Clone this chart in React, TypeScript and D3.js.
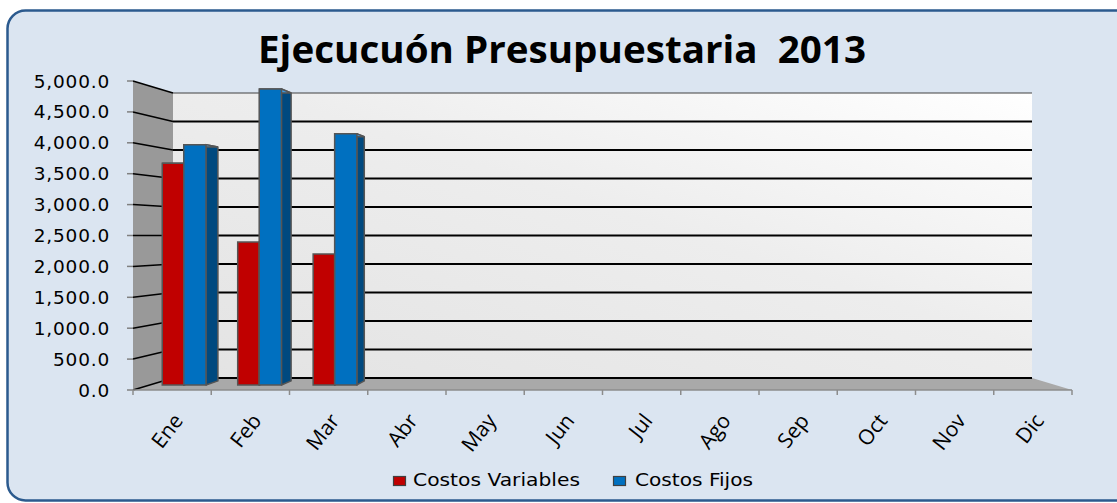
import React from "react";
import * as d3 from "d3";

const months = ["Ene", "Feb", "Mar", "Abr", "May", "Jun", "Jul", "Ago", "Sep", "Oct", "Nov", "Dic"];
const costosVariables: (number | null)[] = [3710, 2390, 2190, null, null, null, null, null, null, null, null, null];
const costosFijos: (number | null)[] = [4020, 4950, 4200, null, null, null, null, null, null, null, null, null];
const yTicks = [0, 500, 1000, 1500, 2000, 2500, 3000, 3500, 4000, 4500, 5000];
const seriesNames = ["Costos Variables", "Costos Fijos"];
const title = "Ejecucuón Presupuestaria  2013";

const W = 1117;
const H = 503;

// front plane / back plane scales (3D look)
const xFront = d3.scaleLinear().domain([0, 12]).range([133, 1072]);
const xBack = d3.scaleLinear().domain([0, 12]).range([173, 1032]);
const yFront = d3.scaleLinear().domain([0, 5000]).range([390, 81]);
const yBack = d3.scaleLinear().domain([0, 5000]).range([378, 93]);

function P(x: number, v: number, t: number): [number, number] {
  const xf = xFront(x), xb = xBack(x);
  const yf = yFront(v), yb = yBack(v);
  return [xf + (xb - xf) * t, yf + (yb - yf) * t];
}
const pts = (arr: [number, number][]) => arr.map((p) => p.join(",")).join(" ");

const T1 = 0.42;
const T2 = 0.76;
const series = [
  { name: seriesNames[0], values: costosVariables, x0: 0.165, x1: 0.45, front: "#c00000", side: "#800000", top: "#e05050" },
  { name: seriesNames[1], values: costosFijos, x0: 0.45, x1: 0.745, front: "#0070c0", side: "#00497f", top: "#3d9be0" },
];

function Bar({ i, v, s }: { i: number; v: number; s: any }) {
  const a = i + s.x0, b = i + s.x1;
  const front: [number, number][] = [P(a, 0, T1), P(b, 0, T1), P(b, v, T1), P(a, v, T1)];
  const rightFrontX = P(b, 0, T1)[0];
  const rightBackX = P(b, 0, T2)[0];
  const rightVisible = rightBackX > rightFrontX;
  const sx = rightVisible ? b : a;
  const side: [number, number][] = [P(sx, 0, T1), P(sx, 0, T2), P(sx, v, T2), P(sx, v, T1)];
  const topVisible = P(a, v, T2)[1] < P(a, v, T1)[1] ? false : true;
  const top: [number, number][] = [P(a, v, T1), P(b, v, T1), P(b, v, T2), P(a, v, T2)];
  const stroke = "#555555";
  return (
    <g>
      <polygon points={pts(side)} fill={s.side} stroke={stroke} strokeWidth={1.5} strokeLinejoin="round" />
      {topVisible && <polygon points={pts(top)} fill={s.top} stroke={stroke} strokeWidth={1.5} />}
      <polygon points={pts(front)} fill={s.front} stroke={stroke} strokeWidth={1.5} />
    </g>
  );
}

export default function App() {
  const ymax = 5000;
  return (
    <svg width={W} height={H} style={{ position: "absolute", left: 0, top: 0, background: "#ffffff" }}>
      <defs>
        <linearGradient id="wall" x1="0" y1="1" x2="1" y2="0">
          <stop offset="0" stopColor="#e3e3e3" />
          <stop offset="0.55" stopColor="#ededed" />
          <stop offset="1" stopColor="#ffffff" />
        </linearGradient>
      </defs>
      <rect x={7.5} y={10.5} width={1130} height={490} rx={18} fill="#dbe5f1" stroke="#2b5a8e" strokeWidth={2.5} />
      <text
        x={258}
        y={63}
        textLength={608}
        lengthAdjust="spacingAndGlyphs"
        style={{ whiteSpace: "pre" }}
        fontFamily="'Open Sans', sans-serif"
        fontWeight={700}
        fontSize={37}
        fill="#000"
      >
        {title}
      </text>

      {/* back wall */}
      <polygon points={pts([P(0, 0, 1), P(12, 0, 1), P(12, ymax, 1), P(0, ymax, 1)])} fill="url(#wall)" />
      {/* left wall */}
      <polygon points={pts([P(0, 0, 0), P(0, 0, 1), P(0, ymax, 1), P(0, ymax, 0)])} fill="#999999" />
      {/* floor */}
      <polygon points={pts([P(0, 0, 0), P(0, 0, 1), P(12, 0, 1), P(12, 0, 0)])} fill="#a9a9a9" />

      {/* gridlines */}
      {yTicks.map((v) => {
        const [bx0, by] = P(0, v, 1);
        const [bx1] = P(12, v, 1);
        const [fx, fy] = P(0, v, 0);
        const isTop = v === ymax;
        return (
          <g key={v}>
            <line x1={bx0} y1={by} x2={bx1} y2={by} stroke={isTop ? "#404040" : "#000"} strokeWidth={isTop ? 1 : 1.8} />
            <line x1={fx} y1={fy} x2={bx0} y2={by} stroke="#000" strokeWidth={1.5} />
            <line x1={fx - 6} y1={fy} x2={fx} y2={fy} stroke="#808080" strokeWidth={1.5} />
          </g>
        );
      })}

      {/* bars */}
      {months.map((m, i) => (
        <g key={m}>
          {series.map((s) => {
            const v = s.values[i];
            return v == null ? null : <Bar key={s.name} i={i} v={v} s={s} />;
          })}
        </g>
      ))}

      {/* x axis */}
      <line x1={xFront(0)} y1={yFront(0)} x2={xFront(12)} y2={yFront(0)} stroke="#8c8c8c" strokeWidth={1.5} />
      {d3.range(13).map((k) => (
        <line key={k} x1={xFront(k)} y1={yFront(0)} x2={xFront(k)} y2={yFront(0) + 5} stroke="#8c8c8c" strokeWidth={1.5} />
      ))}

      {/* y labels */}
      {yTicks.map((v) => (
        <text
          key={v}
          x={110}
          y={yFront(v) + 6.5}
          textAnchor="end"
          fontFamily="'DejaVu Sans', sans-serif"
          fontSize={18.5}
          letterSpacing={0.8}
          fill="#000"
        >
          {d3.format(",.1f")(v)}
        </text>
      ))}

      {/* x labels */}
      {months.map((m, i) => {
        const cx = xFront(i + 0.5) + 12;
        const cy = yFront(0) + 31;
        return (
          <text
            key={m}
            transform={`translate(${cx},${cy}) rotate(-52)`}
            textAnchor="end"
            fontFamily="'Open Sans', sans-serif"
            fontSize={21}
            fill="#000"
          >
            {m}
          </text>
        );
      })}

      {/* legend */}
      <rect x={393.5} y={476.5} width={12} height={9} fill="#c00000" stroke="#404040" strokeWidth={1.2} />
      <text x={413} y={486} textLength={167} lengthAdjust="spacingAndGlyphs" fontFamily="'DejaVu Sans', sans-serif" fontSize={17} fill="#000">
        {seriesNames[0]}
      </text>
      <rect x={613.5} y={476.5} width={12} height={9} fill="#0070c0" stroke="#404040" strokeWidth={1.2} />
      <text x={635} y={486} textLength={118} lengthAdjust="spacingAndGlyphs" fontFamily="'DejaVu Sans', sans-serif" fontSize={17} fill="#000">
        {seriesNames[1]}
      </text>
    </svg>
  );
}
